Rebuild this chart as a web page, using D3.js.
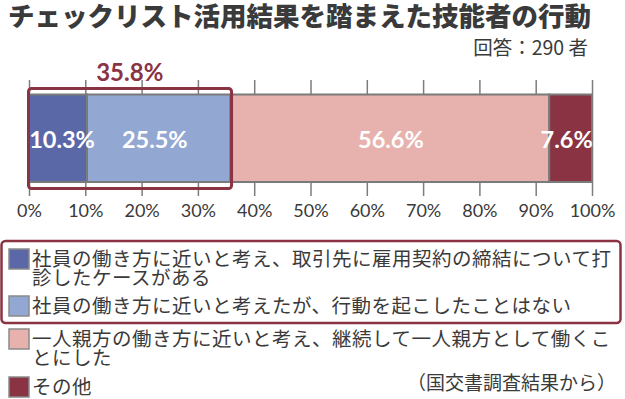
<!DOCTYPE html>
<html><head><meta charset="utf-8">
<script src="https://cdn.jsdelivr.net/npm/d3@7"></script>
<style>
html,body{margin:0;padding:0;background:#fff;}
svg{display:block;}
</style></head>
<body><svg id="chart" width="625" height="399"></svg>
<script>
const title = "チェックリスト活用結果を踏まえた技能者の行動";
const respondents = "回答：290 者";
const source = "（国交書調査結果から）";
const categories = [
  "社員の働き方に近いと考え、取引先に雇用契約の締結について打診したケースがある",
  "社員の働き方に近いと考えたが、行動を起こしたことはない",
  "一人親方の働き方に近いと考え、継続して一人親方として働くことにした",
  "その他"
];
const legendLines = [
  ["社員の働き方に近いと考え、取引先に雇用契約の締結について打", "診したケースがある"],
  ["社員の働き方に近いと考えたが、行動を起こしたことはない"],
  ["一人親方の働き方に近いと考え、継続して一人親方として働くこ", "とにした"],
  ["その他"]
];
const values = [10.3, 25.5, 56.6, 7.6];
const colors = ["#5b68a7", "#93a7d3", "#e7b2ad", "#8a3343"];
const highlighted = [0, 1];
const tickValues = [0, 10, 20, 30, 40, 50, 60, 70, 80, 90, 100];

const svg = d3.select("#chart");
const accent = "#8a3343";
const textColor = "#3a3a3a";
const jp = "'Noto Sans CJK JP', 'Noto Sans', sans-serif";
const num = "Lato, 'Open Sans', sans-serif";

// Title
svg.append("text").attr("x", 8).attr("y", 25.5)
  .attr("font-family", jp).attr("font-weight", 900).attr("font-size", 26.5)
  .attr("fill", textColor).text(title);

svg.append("text").attr("x", 588).attr("y", 54.5).attr("text-anchor", "end")
  .attr("font-family", jp).attr("font-size", 19.5).attr("fill", textColor).text(respondents);

const x = d3.scaleLinear().domain([0, 100]).range([29, 592]);
const barTop = 94.5, barH = 87.5;

// Axis with gridline-style ticks
const axisG = svg.append("g").attr("transform", "translate(0,80)")
  .call(d3.axisBottom(x).tickValues(tickValues).tickSize(116).tickPadding(8).tickFormat(d => d + "%"));
axisG.select(".domain").remove();
axisG.selectAll(".tick line").attr("stroke", "#7d7d7d").attr("stroke-width", 1.5);
axisG.selectAll(".tick text").attr("font-family", num).attr("font-size", 18).attr("fill", textColor);

// Stacked segments
let acc = 0;
const segs = values.map((v, i) => { const s = { start: acc, value: v, i }; acc += v; return s; });
const labelShift = [4, -4, 1, -4];

svg.append("g").selectAll("rect").data(segs).join("rect")
  .attr("x", d => x(d.start)).attr("width", d => x(d.start + d.value) - x(d.start))
  .attr("y", barTop).attr("height", barH)
  .attr("fill", d => colors[d.i]).attr("stroke", "#7a7a7a").attr("stroke-width", 2);

svg.append("g").selectAll("text").data(segs).join("text")
  .attr("x", d => x(d.start + d.value / 2) + labelShift[d.i])
  .attr("y", barTop + barH / 2 + 9.5)
  .attr("text-anchor", "middle").attr("font-family", num).attr("font-weight", 700)
  .attr("font-size", 23.5).attr("fill", "#fff").text(d => d.value.toFixed(1) + "%");

// Highlight box
const hiStart = segs[highlighted[0]].start;
const hiEnd = segs[highlighted[highlighted.length - 1]].start + segs[highlighted[highlighted.length - 1]].value;
const hiTotal = d3.sum(highlighted, i => values[i]);
svg.append("rect").attr("x", x(hiStart) - 0.5).attr("y", 88.5)
  .attr("width", x(hiEnd) - x(hiStart) + 1.5).attr("height", 100)
  .attr("rx", 3).attr("fill", "none").attr("stroke", accent).attr("stroke-width", 3);
svg.append("text").attr("x", x((hiStart + hiEnd) / 2)).attr("y", 80.5)
  .attr("text-anchor", "middle").attr("font-family", num).attr("font-weight", 700)
  .attr("font-size", 24).attr("fill", accent).text(hiTotal.toFixed(1) + "%");

// Legend
const itemY = [259, 306, 339, 387];
const lineH = 19;
svg.append("rect").attr("x", 1.5).attr("y", 241).attr("width", 619).attr("height", 82)
  .attr("rx", 4).attr("fill", "none").attr("stroke", accent).attr("stroke-width", 2.5);

const items = svg.append("g").selectAll("g").data(categories).join("g");
items.append("rect").attr("x", 9).attr("y", (d, i) => itemY[i] - 10)
  .attr("width", 20).attr("height", 20)
  .attr("fill", (d, i) => colors[i]).attr("stroke", "#8a8a8a").attr("stroke-width", 1.5);
items.append("text").attr("font-family", jp).attr("font-size", 19.5).attr("letter-spacing", 0.5)
  .attr("fill", textColor)
  .each(function (d, i) {
    d3.select(this).selectAll("tspan").data(legendLines[i]).join("tspan")
      .attr("x", 32).attr("y", (l, j) => itemY[i] + 7 + j * lineH).text(l => l);
  });

svg.append("text").attr("x", 616).attr("y", 390).attr("text-anchor", "end")
  .attr("font-family", jp).attr("font-size", 19).attr("fill", textColor).text(source);
</script>
</body></html>
